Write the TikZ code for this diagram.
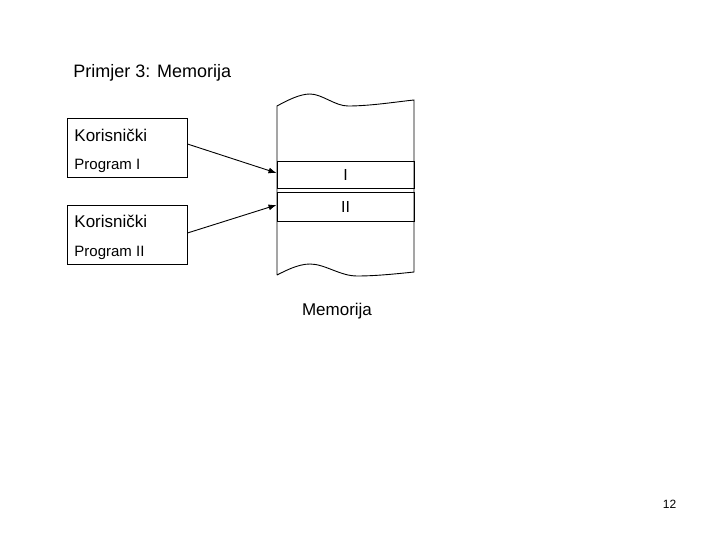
\documentclass[tikz,border=0pt]{standalone}
\usepackage{fontspec}
\setmainfont{Liberation Sans}
\usetikzlibrary{arrows.meta}

\begin{document}
\begin{tikzpicture}[x=1pt,y=-1pt,line width=0.9pt,
    progbox/.style={draw,minimum width=120pt,minimum height=59pt,inner sep=0pt},
    slot/.style={draw,minimum width=137pt,inner sep=0pt},
    lbl/.style={anchor=base west,inner sep=0pt},
    ptr/.style={-{Latex[length=8pt,width=6pt]}}]
  \useasboundingbox (0,0) rectangle (720,540);

  % Title
  \node[lbl,font=\fontsize{18}{21}\selectfont] (title) at (73,78) {Primjer 3: Memorija};

  % User programs
  \node[progbox] (prog1) at (127,147.5) {};
  \node[lbl,font=\fontsize{17}{20}\selectfont] (kor1) at (74,142) {Korisnički};
  \node[lbl,font=\fontsize{15}{18}\selectfont] (name1) at (74,170) {Program I};

  \node[progbox] (prog2) at (127,235) {};
  \node[lbl,font=\fontsize{17}{20}\selectfont] (kor2) at (74,227) {Korisnički};
  \node[lbl,font=\fontsize{15}{18}\selectfont] (name2) at (74,256) {Program II};

  % Memory strip with torn ends
  \draw (277,275) -- (277,106)
    .. controls (288,100) and (300,94) .. (310,94)
    .. controls (322,94) and (335,106) .. (348,106)
    .. controls (370,106) and (395,102) .. (414,100)
    -- (414,272)
    .. controls (395,274) and (375,276) .. (357,276)
    .. controls (340,276) and (325,264) .. (310,264)
    .. controls (298,264) and (285,271) .. (277,275);

  % Memory slots
  \node[slot,minimum height=27pt,font=\fontsize{16}{19}\selectfont] (slot1) at (345.5,174.5) {I};
  \node[slot,minimum height=29pt,anchor=north,font=\fontsize{16}{19}\selectfont] (slot2) at (345.5,192) {};
  \node[anchor=base,inner sep=0pt,font=\fontsize{16}{19}\selectfont] (two) at (345.5,212) {II};

  \node[anchor=base,inner sep=0pt,font=\fontsize{17}{20}\selectfont] (mem) at (337,315) {Memorija};

  % Pointers
  \draw[ptr] ([yshift=3.5pt]prog1.east) -- ([yshift=1.5pt]slot1.west);
  \draw[ptr] ([yshift=2pt]prog2.east) -- ([yshift=2pt]slot2.west);

  % Page number
  \node[anchor=base,inner sep=0pt,font=\fontsize{12}{14}\selectfont] (page) at (669.5,508) {12};
\end{tikzpicture}
\end{document}
